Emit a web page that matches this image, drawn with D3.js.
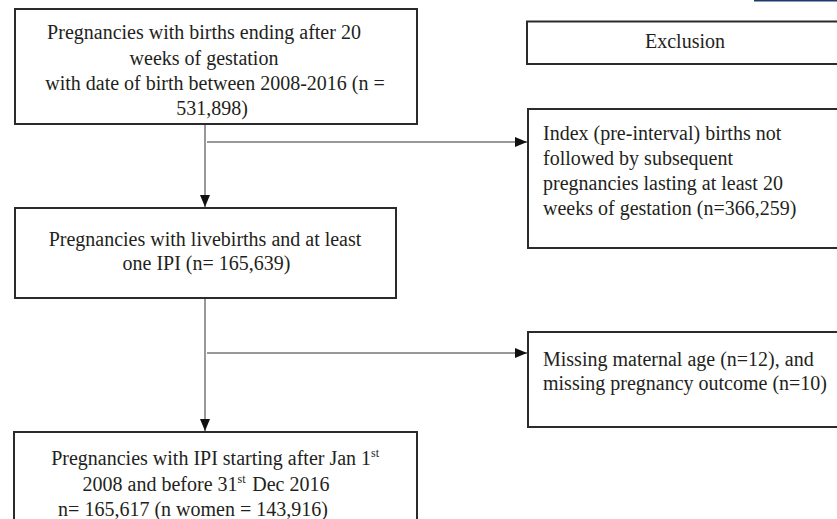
<!DOCTYPE html>
<html>
<head>
<meta charset="utf-8">
<script src="https://cdn.jsdelivr.net/npm/d3@7/dist/d3.min.js"></script>
<style>
  html, body { margin: 0; padding: 0; background: #fff; }
  svg { display: block; }
  text { font-family: "Liberation Serif", "Times New Roman", serif; font-size: 20px; fill: #231f20; }
</style>
</head>
<body>
<svg id="chart" width="837" height="519"></svg>
<script>
// ---- Data (text content of the flow diagram) ----
const mainStepLines = [
  ["Pregnancies with births ending after 20", "weeks of gestation", "with date of birth between 2008-2016 (n =", "531,898)"],
  ["Pregnancies with livebirths and at least", "one IPI (n= 165,639)"],
  ["Pregnancies with IPI starting after Jan 1^st^", "2008 and before 31^st^ Dec 2016", "n= 165,617 (n women = 143,916)"]
];
const exclusionHeader = ["Exclusion"];
const exclusionLines = [
  ["Index (pre-interval) births not", "followed by subsequent", "pregnancies lasting at least 20", "weeks of gestation (n=366,259)"],
  ["Missing maternal age (n=12), and", "missing pregnancy outcome (n=10)"]
];

// ---- Layout ----
const svg = d3.select("#chart");
const W = 837, H = 519;
const stroke = "#2b2b2b";

const mainBoxes = [
  {x0: 15, y0: 9,   x1: 417, y1: 124, centers: [204, 204, 215, 212], baselines: [39, 65, 90, 115]},
  {x0: 15, y0: 208, x1: 396, y1: 298, centers: [205, 206.5], baselines: [246, 270]},
  {x0: 14, y0: 432, x1: 417, y1: 560, centers: [216, 206, 193], baselines: [465, 491, 516]}
];
const headerBox = {x0: 527, y0: 21.5, x1: 860, y1: 64, centers: [685], baselines: [48]};
const exclBoxes = [
  {x0: 528, y0: 109, x1: 860, y1: 248, left: 543, baselines: [140, 165, 190, 215], arrowY: 142},
  {x0: 528, y0: 332, x1: 860, y1: 427, left: 543, baselines: [366, 390], arrowY: 353}
];
const spineX = 205;

// arrow marker
const defs = svg.append("defs");
defs.append("marker")
  .attr("id", "arrow")
  .attr("viewBox", "0 0 12 10")
  .attr("refX", 12).attr("refY", 5)
  .attr("markerWidth", 12).attr("markerHeight", 10)
  .attr("markerUnits", "userSpaceOnUse")
  .attr("orient", "auto")
  .append("path")
  .attr("d", "M0,0 L12,5 L0,10 Z")
  .attr("fill", "#111");

// helper: write a line that may contain ^sup^ parts
function writeLine(sel, str) {
  const parts = str.split(/\^(.*?)\^/);
  parts.forEach((p, i) => {
    if (p === "") return;
    if (i % 2 === 1) {
      sel.append("tspan").attr("dy", -8).attr("font-size", 12).text(p);
      sel.append("tspan").attr("dy", 8).text("\u200A");
    } else {
      sel.append("tspan").text(p);
    }
  });
}

function drawBox(b, lw) {
  svg.append("rect")
    .attr("x", b.x0).attr("y", b.y0)
    .attr("width", b.x1 - b.x0).attr("height", b.y1 - b.y0)
    .attr("fill", "none").attr("stroke", stroke).attr("stroke-width", lw || 2);
}

// main boxes
mainBoxes.forEach((b, i) => {
  drawBox(b);
  svg.append("g").selectAll("text")
    .data(mainStepLines[i])
    .join("text")
    .attr("x", (d, j) => b.centers[j])
    .attr("y", (d, j) => b.baselines[j])
    .attr("text-anchor", "middle")
    .each(function(d) { writeLine(d3.select(this), d); });
});

// header
drawBox(headerBox);
svg.append("text")
  .attr("x", headerBox.centers[0]).attr("y", headerBox.baselines[0])
  .attr("text-anchor", "middle")
  .text(exclusionHeader[0]);

// exclusion boxes
exclBoxes.forEach((b, i) => {
  drawBox(b);
  svg.append("g").selectAll("text")
    .data(exclusionLines[i])
    .join("text")
    .attr("x", b.left)
    .attr("y", (d, j) => b.baselines[j])
    .each(function(d) { writeLine(d3.select(this), d); });
});

// connectors
const line = d3.line();
const conn = svg.append("g").attr("fill", "none").attr("stroke", "#333").attr("stroke-width", 1);
for (let i = 0; i < mainBoxes.length - 1; i++) {
  conn.append("path")
    .attr("d", line([[spineX, mainBoxes[i].y1 + 1], [spineX, mainBoxes[i + 1].y0 - 1]]))
    .attr("marker-end", "url(#arrow)");
  conn.append("path")
    .attr("d", line([[spineX + 2, exclBoxes[i].arrowY], [exclBoxes[i].x0 - 1, exclBoxes[i].arrowY]]))
    .attr("marker-end", "url(#arrow)");
}

// small navy rule at top-right edge
svg.append("rect").attr("x", 754).attr("y", 0).attr("width", W - 754).attr("height", 1.5).attr("fill", "#1d3a6b");
</script>
</body>
</html>
